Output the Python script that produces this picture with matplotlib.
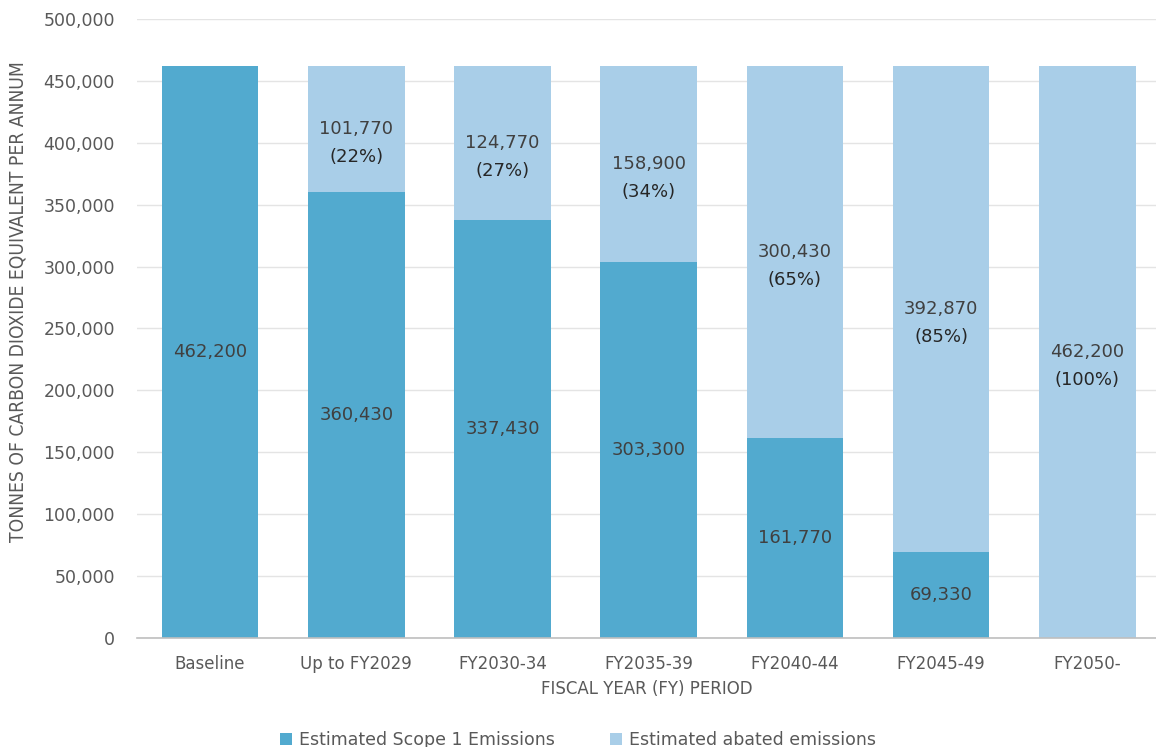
import numpy as np
import matplotlib
matplotlib.use("Agg")
import matplotlib.pyplot as plt
from matplotlib.ticker import FuncFormatter

# chart data
categories = ['Baseline', 'Up to FY2029', 'FY2030-34', 'FY2035-39',
              'FY2040-44', 'FY2045-49', 'FY2050-']
scope1 = [462200, 360430, 337430, 303300, 161770, 69330, 0]
abated = [0, 101770, 124770, 158900, 300430, 392870, 462200]
abated_pct = ['', '22%', '27%', '34%', '65%', '85%', '100%']

DARK = '#52AACF'
LIGHT = '#A9CEE8'
TEXT = '#404040'
TICK = '#595959'


def fmt(v):
    return f"{v:,.0f}"


def main():
    plt.rcParams['font.family'] = ['DejaVu Sans']
    fig = plt.figure(figsize=(11.56, 7.47), dpi=100)
    ax = fig.add_axes([0.1185, 0.146, 0.8815, 0.8286])

    x = np.arange(len(categories))
    w = 0.66
    ax.bar(x, scope1, w, color=DARK, label='Estimated Scope 1 Emissions', zorder=2)
    ax.bar(x, abated, w, bottom=scope1, color=LIGHT,
           label='Estimated abated emissions', zorder=2)

    # value labels
    for i in range(len(categories)):
        if scope1[i] > 0:
            ax.text(x[i], scope1[i] / 2, fmt(scope1[i]), ha='center', va='center',
                    fontsize=13, color=TEXT, zorder=3)
        if abated[i] > 0:
            yc = scope1[i] + abated[i] / 2
            ax.text(x[i], yc, fmt(abated[i]), ha='center', va='center',
                    fontsize=13, color=TEXT, zorder=3)
            ax.annotate(f"({abated_pct[i]})", (x[i], yc), xytext=(0, -20),
                        textcoords='offset points', ha='center', va='center',
                        fontsize=13, color='#262626', zorder=3)

    ax.set_ylim(0, 500000)
    ax.set_xlim(-0.5, 6.47)
    ax.set_yticks(np.arange(0, 500001, 50000))
    ax.yaxis.set_major_formatter(FuncFormatter(lambda v, p: fmt(v)))
    ax.set_xticks(x)
    ax.set_xticklabels(categories)
    ax.tick_params(axis='y', length=0, pad=16, labelsize=12.5, labelcolor=TICK)
    ax.tick_params(axis='x', length=0, pad=12, labelsize=12, labelcolor=TICK)
    ax.grid(axis='y', color='#E4E4E4', linewidth=1, zorder=0)
    ax.set_axisbelow(True)
    for s in ['top', 'right', 'left']:
        ax.spines[s].set_visible(False)
    ax.spines['bottom'].set_color('#BFBFBF')
    ax.spines['bottom'].set_linewidth(1.2)
    ax.spines['bottom'].set_zorder(3)

    ax.set_xlabel('FISCAL YEAR (FY) PERIOD', fontsize=12, color=TICK, labelpad=5)
    fig.text(0.016, 0.596, 'TONNES OF CARBON DIOXIDE EQUIVALENT PER ANNUM',
             rotation=90, ha='center', va='center', fontsize=13.8, color=TICK,
             family=['DejaVu Sans'], fontstretch='condensed')

    fig.legend(loc='center', bbox_to_anchor=(0.5, 0.009), ncol=2, frameon=False,
               fontsize=12.5, handlelength=0.7, handleheight=0.7,
               columnspacing=3.2, handletextpad=0.4, labelcolor=TICK)

    fig.savefig('out.png', dpi=100)


if __name__ == "__main__":
    main()
